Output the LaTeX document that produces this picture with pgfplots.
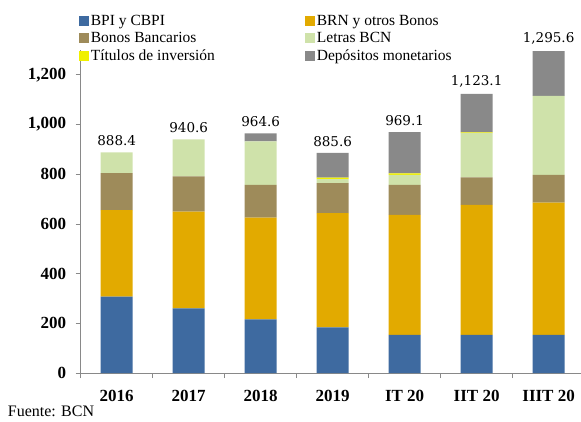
\documentclass[border=0pt]{standalone}
\usepackage{pgfplots}
\pgfplotsset{compat=1.18}
\usepackage{fontspec}
\setmainfont{Liberation Serif}
\newfontfamily\lblfont{DejaVu Serif}
\definecolor{cBPI}{RGB}{62,106,160}
\definecolor{cBRN}{RGB}{226,170,0}
\definecolor{cBon}{RGB}{158,139,90}
\definecolor{cLet}{RGB}{207,226,170}
\definecolor{cTit}{RGB}{240,240,0}
\definecolor{cDep}{RGB}{137,137,137}
\definecolor{axisgray}{RGB}{137,137,137}
\begin{document}
\begin{tikzpicture}
\path[use as bounding box] (-80.7pt,-48pt) rectangle (500.3pt,373pt);
\begin{axis}[
    at={(0pt,0pt)}, anchor=south west,
    scale only axis,
    width=500.3pt, height=323pt,
    ybar stacked,
    bar width=32pt,
    xmin=-0.5, xmax=6.45,
    ymin=0, ymax=1300,
    axis x line*=bottom,
    axis y line*=left,
    axis line style={draw=axisgray, line width=0.8pt},
    tick align=outside,
    major tick length=5pt,
    tick style={draw=axisgray, line width=0.8pt},
    ytick={0,200,...,1200},
    /pgf/number format/1000 sep={,},
    /pgf/number format/assume math mode=true,
    yticklabel style={font=\bfseries\fontsize{17}{17}\selectfont, xshift=-6pt},
    xtick={-0.5,0.5,...,5.5},
    xticklabels={2016,2017,2018,2019,IT 20,IIT 20,IIIT 20},
    xticklabel style={font=\bfseries\fontsize{17}{17}\selectfont, xshift=36pt, yshift=-9pt},
    clip=false,
    legend columns=2,
    legend style={at={(axis description cs:-0.004,1.115)}, anchor=north west,
        draw=none, fill=none, font=\fontsize{15.5}{15.5}\selectfont,
        row sep=1.5pt, inner sep=0pt},
    legend cell align=left,
    legend image code/.code={\fill[#1,draw=none] (0pt,-5pt) rectangle (10pt,5pt);},
]
\addplot[fill=cBPI, draw=none] coordinates {(0,307) (1,260) (2,216) (3,184) (4,153) (5,153) (6,153)};
\addlegendentry{\makebox[212pt][l]{BPI y CBPI}}
\addplot[fill=cBRN, draw=none] coordinates {(0,349) (1,390) (2,409) (3,459) (4,483) (5,524) (6,533)};
\addlegendentry{BRN y otros Bonos}
\addplot[fill=cBon, draw=none] coordinates {(0,148) (1,141) (2,132) (3,121) (4,121) (5,110) (6,111)};
\addlegendentry{\makebox[212pt][l]{Bonos Bancarios}}
\addplot[fill=cLet, draw=none] coordinates {(0,84.4) (1,149.6) (2,175) (3,16) (4,40) (5,178) (6,318)};
\addlegendentry{Letras BCN}
\addplot[fill=cTit, draw=none] coordinates {(0,0) (1,0) (2,0) (3,6) (4,6) (5,3) (6,0)};
\addlegendentry{\makebox[212pt][l]{Títulos de inversión}}
\addplot[fill=cDep, draw=none] coordinates {(0,0) (1,0) (2,32.6) (3,99.6) (4,166.1) (5,155.1) (6,180.6)};
\addlegendentry{Depósitos monetarios}
\end{axis}
% totals above the bars
\begin{axis}[
    at={(0pt,0pt)}, anchor=south west,
    scale only axis,
    width=500.3pt, height=323pt,
    ybar, bar width=32pt,
    xmin=-0.5, xmax=6.45,
    ymin=0, ymax=1300,
    hide axis, clip=false,
    point meta=explicit symbolic,
    nodes near coords,
    nodes near coords style={font=\lblfont\fontsize{13.5}{13.5}\selectfont, anchor=south, yshift=3pt},
]
\addplot[draw=none, fill=none] coordinates {(0,888.4)[888.4] (1,940.6)[940.6] (2,964.6)[964.6] (3,885.6)[885.6] (4,969.1)[969.1] (5,1123.1)[1{,}123.1] (6,1295.6)[1{,}295.6]};
\end{axis}
\node[anchor=north west, inner sep=0pt, font=\fontsize{16}{16}\selectfont] at (-73pt,-33pt) {Fuente: BCN};
\end{tikzpicture}
\end{document}
